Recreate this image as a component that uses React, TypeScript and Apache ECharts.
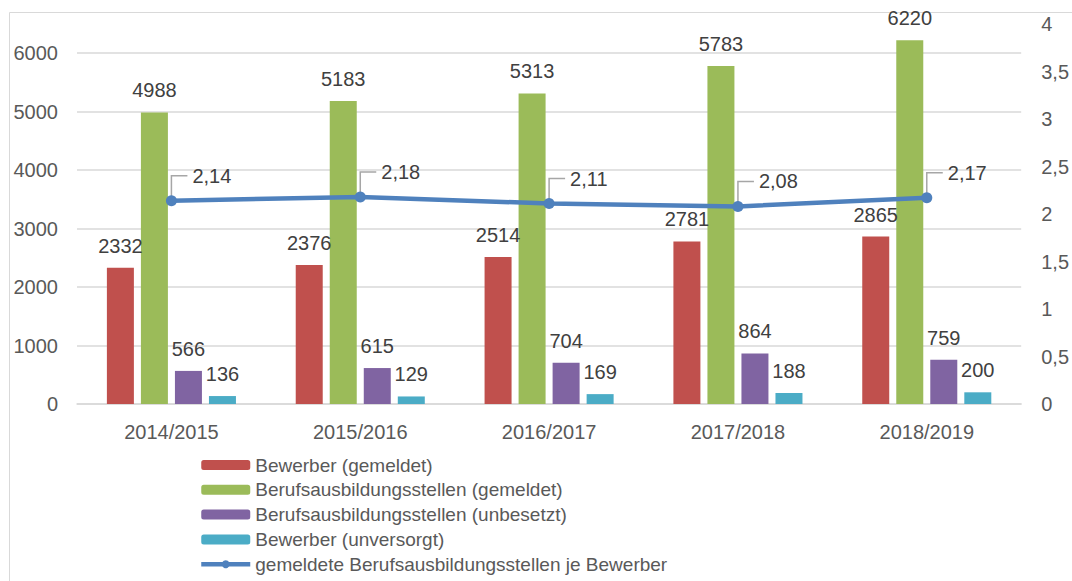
import React, { useEffect, useRef } from "react";
import * as echarts from "echarts";

const categories = ["2014/2015", "2015/2016", "2016/2017", "2017/2018", "2018/2019"];
const bewerberGemeldet = [2332, 2376, 2514, 2781, 2865];
const stellenGemeldet = [4988, 5183, 5313, 5783, 6220];
const stellenUnbesetzt = [566, 615, 704, 864, 759];
const bewerberUnversorgt = [136, 129, 169, 188, 200];
const stellenJeBewerber = [2.14, 2.18, 2.11, 2.08, 2.17];

const seriesNames = [
  "Bewerber (gemeldet)",
  "Berufsausbildungsstellen (gemeldet)",
  "Berufsausbildungsstellen (unbesetzt)",
  "Bewerber (unversorgt)",
  "gemeldete Berufsausbildungsstellen je Bewerber",
];
const colors = ["#c0504d", "#9bbb59", "#8064a2", "#4bacc6", "#4f81bd"];

const FONT = "'Liberation Sans', Arial, sans-serif";
const TEXT = "#404040";
const AXIS_TEXT = "#595959";

export default function App() {
  const ref = useRef<HTMLDivElement>(null);
  useEffect(() => {
    if (!ref.current) return;
    const chart = echarts.init(ref.current, undefined, { renderer: "svg" });
    const barLabel = {
      show: true,
      position: "top",
      distance: 12,
      color: TEXT,
      fontSize: 20,
      fontFamily: FONT,
    };
    const barSeries = [bewerberGemeldet, stellenGemeldet, stellenUnbesetzt, bewerberUnversorgt].map(
      (d, i) => ({
        name: seriesNames[i],
        type: "bar",
        data: d,
        barWidth: 27,
        barGap: "26%",
        itemStyle: { color: colors[i] },
        label: barLabel,
        z: 2,
      })
    );
    chart.setOption({
      animation: false,
      textStyle: { fontFamily: FONT },
      graphic: [
        {
          type: "rect",
          left: 7,
          top: 10,
          shape: { width: 1200, height: 700 },
          style: { fill: "none", stroke: "#d9d9d9", lineWidth: 1 },
          silent: true,
        },
      ],
      grid: { left: 77, right: 50, top: 24, bottom: 177 },
      legend: {
        orient: "vertical",
        left: 194,
        top: 450,
        itemWidth: 49,
        itemHeight: 10,
        itemGap: 4.8,
        itemTextGap: 5,
        data: [
          seriesNames[0],
          seriesNames[1],
          seriesNames[2],
          seriesNames[3],
          { name: seriesNames[4], lineStyle: { width: 4.5 } },
        ],
        textStyle: { color: AXIS_TEXT, fontSize: 19, fontFamily: FONT, lineHeight: 20 },
      },
      xAxis: {
        type: "category",
        data: categories,
        axisLine: { lineStyle: { color: "#d9d9d9", width: 1.5 } },
        axisTick: { show: false },
        axisLabel: { color: AXIS_TEXT, fontSize: 20, fontFamily: FONT, margin: 18 },
      },
      yAxis: [
        {
          type: "value",
          min: 0,
          max: 6500,
          interval: 1000,
          axisLine: { show: false },
          axisTick: { show: false },
          axisLabel: {
            color: AXIS_TEXT,
            fontSize: 20,
            fontFamily: FONT,
            margin: 19,
            showMaxLabel: false,
            formatter: (v: number) => String(v),
          },
          splitLine: { show: true, showMaxLine: false, lineStyle: { color: "#d9d9d9", width: 1.5 } },
        },
        {
          type: "value",
          min: 0,
          max: 4,
          interval: 0.5,
          axisLine: { show: false },
          axisTick: { show: false },
          splitLine: { show: false },
          axisLabel: {
            color: AXIS_TEXT,
            fontSize: 20,
            fontFamily: FONT,
            margin: 20,
            formatter: (v: number) => String(v).replace(".", ","),
          },
        },
      ],
      series: [
        ...barSeries,
        {
          name: seriesNames[4],
          type: "line",
          yAxisIndex: 1,
          data: stellenJeBewerber,
          symbol: "circle",
          symbolSize: 11,
          lineStyle: { color: colors[4], width: 4.5 },
          itemStyle: { color: colors[4] },
          z: 5,
        },
        {
          name: "labels",
          type: "custom",
          yAxisIndex: 1,
          z: 4,
          data: stellenJeBewerber.map((v, i) => [i, v]),
          renderItem: (params: any, api: any) => {
            const p = api.coord([api.value(0), api.value(1)]);
            const txt = String(api.value(1)).replace(".", ",");
            return {
              type: "group",
              children: [
                {
                  type: "polyline",
                  shape: {
                    points: [
                      [p[0], p[1] - 3],
                      [p[0], p[1] - 25],
                      [p[0] + 16, p[1] - 25],
                    ],
                  },
                  style: { stroke: "#a6a6a6", lineWidth: 1.5, fill: null },
                },
                {
                  type: "text",
                  x: p[0] + 21,
                  y: p[1] - 25,
                  style: {
                    text: txt,
                    fill: TEXT,
                    fontSize: 20,
                    fontFamily: FONT,
                    verticalAlign: "middle",
                    align: "left",
                  },
                },
              ],
            };
          },
        },
      ],
    });
    return () => chart.dispose();
  }, []);
  return (
    <div
      ref={ref}
      style={{ position: "fixed", left: 0, top: 0, width: 1072, height: 581, background: "#fff" }}
    />
  );
}
